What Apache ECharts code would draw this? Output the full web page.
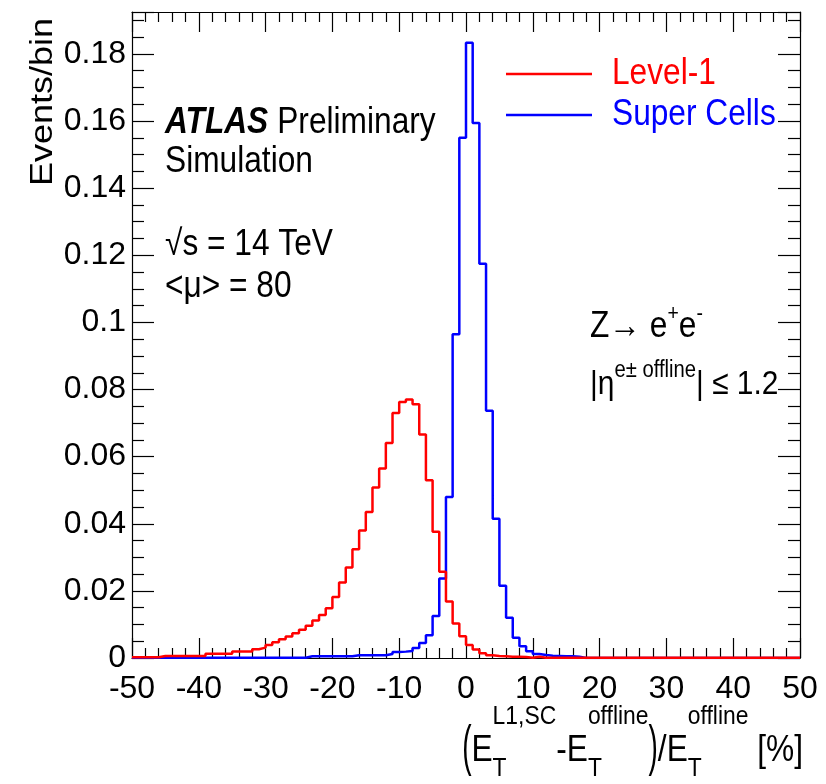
<!DOCTYPE html>
<html>
<head>
<meta charset="utf-8">
<script src="https://cdn.jsdelivr.net/npm/echarts@6.0.0/dist/echarts.min.js"></script>
<style>
html,body{margin:0;padding:0;background:#ffffff;}
#chart{width:826px;height:784px;}
</style>
</head>
<body>
<div id="chart"></div>
<script>
// ---------------- data ----------------
const binLow = -50;      // lower edge of first bin [%]
const binWidth = 1;      // bin width [%]
const seriesNames = ['Level-1', 'Super Cells'];

// Level-1 : bins -50 ... 49
const level1 = [
  0.0002, 0.0002, 0.0002, 0.0002, 0.0006, 0.0006, 0.0006, 0.0006, 0.0006, 0.0006, // -50..-41
  0.0006, 0.0013, 0.0013, 0.0013, 0.0013, 0.0019, 0.0019, 0.0019, 0.0026, 0.0031, // -40..-31
  0.0039, 0.0047, 0.0056, 0.0064, 0.0074, 0.0084, 0.0096, 0.0112, 0.0128, 0.0148, // -30..-21
  0.0182, 0.0225, 0.0270, 0.0324, 0.0380, 0.0435, 0.0508, 0.0565, 0.0641, 0.0730, // -20..-11
  0.0763, 0.0770, 0.0756, 0.0666, 0.0530, 0.0376, 0.0257, 0.0168, 0.0103, 0.0065, // -10..-1
  0.0039, 0.0025, 0.0014, 0.0008, 0.0006, 0.0005, 0.0004, 0.0004, 0.0003, 0.0001, //   0..9
  0.0004, 0.0001, 0.0001, 0.0001, 0.0001, 0.0001, 0.0001, 0.0001, 0.0001, 0.0001, //  10..19
  0.0001, 0.0001, 0.0001, 0.0001, 0.0001, 0.0001, 0.0001, 0.0001, 0.0001, 0.0001, //  20..29
  0.0001, 0.0001, 0.0001, 0.0001, 0.0001, 0.0001, 0.0001, 0.0001, 0.0001, 0.0001, //  30..39
  0.0001, 0.0001, 0.0001, 0.0001, 0.0001, 0.0001, 0.0001, 0.0001, 0.0001, 0.0001  //  40..49
];

// Super Cells : bins -50 ... 49
const superCells = [
  0.0001, 0.0001, 0.0001, 0.0001, 0.0001, 0.0001, 0.0001, 0.0001, 0.0001, 0.0001, // -50..-41
  0.0001, 0.0001, 0.0001, 0.0001, 0.0001, 0.0001, 0.0001, 0.0001, 0.0001, 0.0001, // -40..-31
  0.0001, 0.0001, 0.0001, 0.0001, 0.0001, 0.0001, 0.0005, 0.0005, 0.0005, 0.0005, // -30..-21
  0.0005, 0.0005, 0.0005, 0.0008, 0.0008, 0.0008, 0.0008, 0.0008, 0.0012, 0.0018, // -20..-11
  0.0019, 0.0021, 0.0030, 0.0045, 0.0068, 0.0125, 0.0237, 0.0480, 0.0965, 0.1550, // -10..-1
  0.1833, 0.1594, 0.1175, 0.0737, 0.0415, 0.0215, 0.0120, 0.0060, 0.0035, 0.0020, //   0..9
  0.0012, 0.0009, 0.0007, 0.0006, 0.0005, 0.0005, 0.0004, 0,      0,      0,      //  10..19
  0, 0, 0, 0, 0, 0, 0, 0, 0, 0,                                                    //  20..29
  0, 0, 0, 0, 0, 0, 0, 0, 0, 0,                                                    //  30..39
  0, 0, 0, 0, 0, 0, 0, 0, 0, 0                                                     //  40..49
];

const xRange = [-50, 50];
const xStep = 10;
const yRange = [0, 0.1925];
const yStep = 0.02;

// ---------------- helpers ----------------
const FONT = '"Liberation Sans", Arial, Helvetica, sans-serif';
const RED = '#ff0000', BLUE = '#0000ff';
const SX = 0.88;   // horizontal squeeze of annotation text
const mctx = document.createElement('canvas').getContext('2d');
function fontStr(size, weight, style) {
  return (style || 'normal') + ' ' + (weight || 'normal') + ' ' + size + 'px ' + FONT;
}
function tw(text, size, weight, style) {
  mctx.font = fontStr(size, weight, style);
  return mctx.measureText(text).width;
}
function textEl(text, x, y, size, opts) {
  opts = opts || {};
  return {
    type: 'text', x: x, y: y, z: 100,
    scaleX: opts.sx == null ? SX : opts.sx,
    scaleY: opts.sy == null ? 1 : opts.sy,
    rotation: opts.rotation || 0,
    style: {
      text: text,
      font: fontStr(size, opts.weight, opts.fstyle),
      fill: opts.color || '#000',
      textAlign: opts.align || 'left', align: opts.align || 'left',
      textVerticalAlign: 'middle', verticalAlign: 'middle'
    }
  };
}
// lays out a formula made of pieces; stacked pieces share the same x
function formula(parts, x0, yMid, align, color) {
  const sxOf = q => (q.sx == null ? SX : q.sx);
  const widths = parts.map(p => p.stack
    ? Math.max.apply(null, p.stack.map(q => tw(q.t, q.s) * sxOf(q)))
    : tw(p.t, p.s) * sxOf(p));
  const total = widths.reduce((a, b) => a + b, 0);
  let x = align === 'right' ? x0 - total : x0;
  const els = [];
  parts.forEach((p, i) => {
    (p.stack || [p]).forEach(q => {
      els.push(textEl(q.t, x, yMid + (q.dy || 0), q.s, {sx: sxOf(q), color: color}));
    });
    x += widths[i];
  });
  return els;
}
function toSteps(vals) {
  const pts = vals.map((v, i) => [binLow + i * binWidth, v]);
  pts.push([binLow + vals.length * binWidth, vals[vals.length - 1]]);
  return pts;
}

// ---------------- chart ----------------
const chart = echarts.init(document.getElementById('chart'), null, {renderer: 'canvas'});

const axisCommonX = {
  type: 'value', min: xRange[0], max: xRange[1], interval: xStep,
  axisLine: {show: true, onZero: false, lineStyle: {color: '#000', width: 1.2}},
  axisTick: {show: true, inside: true, length: 20, lineStyle: {color: '#000', width: 1.2}},
  minorTick: {show: true, splitNumber: 5, length: 10, lineStyle: {color: '#000', width: 1.2}},
  splitLine: {show: false}, minorSplitLine: {show: false}
};
const axisCommonY = {
  type: 'value', min: yRange[0], max: yRange[1], interval: yStep,
  axisLine: {show: true, onZero: false, lineStyle: {color: '#000', width: 1.2}},
  axisTick: {show: true, inside: true, length: 22, lineStyle: {color: '#000', width: 1.2}},
  minorTick: {show: true, splitNumber: 4, length: 12, lineStyle: {color: '#000', width: 1.2}},
  splitLine: {show: false}, minorSplitLine: {show: false}
};

const graphics = [];
// y axis title (rotated; squeeze across the text direction)
graphics.push(textEl('Events/bin', 43, 18, 36, {rotation: Math.PI / 2, align: 'right', sx: 1, sy: SX}));
// x axis title
graphics.push.apply(graphics, formula([
  {t: '(', s: 56, sx: 0.5, dy: -2},
  {t: 'E', s: 36},
  {stack: [{t: 'L1,SC', s: 26, dy: -34}, {t: 'T', s: 26, dy: 18}]},
  {t: '-E', s: 36},
  {stack: [{t: 'offline', s: 26, dy: -34}, {t: 'T', s: 26, dy: 18}]},
  {t: ')', s: 56, sx: 0.5, dy: -2},
  {t: '/E', s: 36},
  {stack: [{t: 'offline', s: 26, dy: -34}, {t: 'T', s: 26, dy: 18}]},
  {t: ' [%]', s: 36}
], 803, 751, 'right'));
// ATLAS label
const atlasW = tw('ATLAS', 36, 'bold', 'italic') * SX;
graphics.push(textEl('ATLAS', 165, 123, 36, {weight: 'bold', fstyle: 'italic'}));
graphics.push(textEl('Preliminary', 165 + atlasW + 9, 123, 36));
graphics.push(textEl('Simulation', 165, 162, 36));
graphics.push(textEl('\u221As = 14 TeV', 165, 245, 36));
graphics.push(textEl('<\u03BC> = 80', 165, 287, 36));
// process label
graphics.push.apply(graphics, formula([
  {t: 'Z\u2192 e', s: 36},
  {t: '+', s: 22, dy: -13},
  {t: 'e', s: 36},
  {t: '-', s: 22, dy: -13}
], 590, 327, 'left'));
graphics.push.apply(graphics, formula([
  {t: '|\u03B7', s: 34},
  {t: 'e\u00B1 offline', s: 23, dy: -14},
  {t: '| \u2264 1.2', s: 34}
], 590, 385, 'left'));
// legend
graphics.push({type: 'line', z: 100, shape: {x1: 506, y1: 74, x2: 592, y2: 74}, style: {stroke: RED, lineWidth: 2.5}});
graphics.push({type: 'line', z: 100, shape: {x1: 506, y1: 115, x2: 592, y2: 115}, style: {stroke: BLUE, lineWidth: 2.5}});
graphics.push(textEl(seriesNames[0], 612, 74, 36, {color: RED}));
graphics.push(textEl(seriesNames[1], 612, 115, 36, {color: BLUE}));

chart.setOption({
  animation: false,
  backgroundColor: '#ffffff',
  textStyle: {fontFamily: FONT},
  grid: {left: 132, right: 26, top: 12, bottom: 126, containLabel: false},
  xAxis: [
    Object.assign({}, axisCommonX, {
      position: 'bottom',
      axisLabel: {show: true, color: '#000', fontSize: 32, fontFamily: FONT, margin: 15}
    }),
    Object.assign({}, axisCommonX, {position: 'top', axisLabel: {show: false}})
  ],
  yAxis: [
    Object.assign({}, axisCommonY, {
      position: 'left',
      axisLabel: {show: true, color: '#000', fontSize: 32, fontFamily: FONT, margin: 6,
        showMaxLabel: false}
    }),
    Object.assign({}, axisCommonY, {position: 'right', axisLabel: {show: false}})
  ],
  series: [
    {
      name: seriesNames[1], type: 'line', step: 'end', xAxisIndex: 0, yAxisIndex: 0,
      data: toSteps(superCells), symbol: 'none', showSymbol: false,
      lineStyle: {color: BLUE, width: 2.5}, itemStyle: {color: BLUE}, z: 3
    },
    {
      name: seriesNames[0], type: 'line', step: 'end', xAxisIndex: 0, yAxisIndex: 0,
      data: toSteps(level1), symbol: 'none', showSymbol: false,
      lineStyle: {color: RED, width: 2.5}, itemStyle: {color: RED}, z: 4
    }
  ],
  graphic: graphics
});
</script>
</body>
</html>
